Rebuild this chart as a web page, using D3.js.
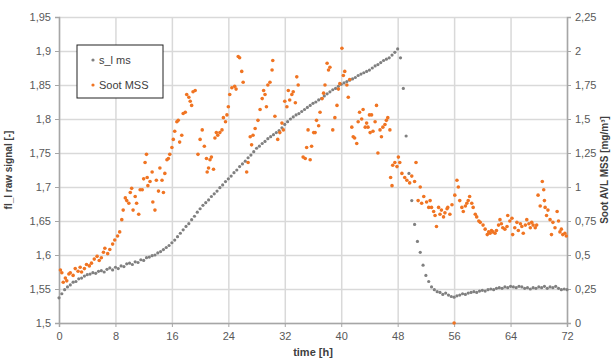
<!DOCTYPE html>
<meta charset="utf-8">
<body style="margin:0;background:#fff"><div id="chart"></div></body>
<script src="https://cdn.jsdelivr.net/npm/d3@7"></script>
<script>
// plot box and size
var width = 615, height = 360;
var margin = {top: 17, right: 48, bottom: 37, left: 59};
var innerW = width - margin.left - margin.right,
    innerH = height - margin.top - margin.bottom;

// tick labels
var timeTicks = [0, 8, 16, 24, 32, 40, 48, 56, 64, 72];
var leftTicks = [1.5, 1.55, 1.6, 1.65, 1.7, 1.75, 1.8, 1.85, 1.9, 1.95];
var rightTicks = [0, 0.25, 0.5, 0.75, 1, 1.25, 1.5, 1.75, 2, 2.25];

// fl_l signal, sampled every 0.4 h from t = 0
var signalStep = 0.4;
var signalValues = [
  1.537,1.543,1.549,1.553,1.556,1.560,1.561,1.565,1.566,1.569,1.571,1.572,1.574,1.573,1.576,1.577,1.575,1.579,1.581,1.578,
  1.582,1.580,1.584,1.583,1.587,1.588,1.586,1.590,1.589,1.593,1.592,1.596,1.597,1.599,1.600,1.603,1.605,1.608,1.611,1.614,
  1.618,1.622,1.627,1.632,1.637,1.642,1.646,1.652,1.657,1.663,1.668,1.673,1.677,1.681,1.686,1.690,1.694,1.699,1.703,1.708,
  1.712,1.716,1.721,1.725,1.730,1.734,1.738,1.743,1.747,1.752,1.757,1.760,1.764,1.767,1.771,1.774,1.777,1.780,1.783,1.787,
  1.792,1.796,1.800,1.803,1.806,1.808,1.811,1.814,1.817,1.820,1.823,1.825,1.828,1.830,1.834,1.837,1.840,1.843,1.845,1.848,
  1.851,1.853,1.855,1.857,1.859,1.861,1.864,1.866,1.868,1.870,1.872,1.875,1.878,1.880,1.883,1.886,1.888,1.890,1.894,1.898,
  1.903,1.890,1.845,1.775,1.720,1.680,1.645,1.620,1.604,1.585,1.570,1.561,1.553,1.549,1.546,1.545,1.542,1.544,1.541,1.539,
  1.538,1.540,1.541,1.543,1.542,1.544,1.545,1.546,1.545,1.547,1.548,1.547,1.549,1.550,1.549,1.551,1.552,1.551,1.553,1.552,
  1.554,1.553,1.552,1.554,1.553,1.551,1.552,1.550,1.552,1.551,1.553,1.552,1.554,1.551,1.553,1.552,1.554,1.551,1.549,1.550,
  1.549
];

// Soot MSS (mg/m3)
var sootTimes = [
  0.2,0.4,0.6,0.9,1.1,1.4,1.6,2.0,2.3,2.7,3.0,3.2,3.6,3.9,4.3,4.6,5.0,5.4,5.7,6.0,6.3,6.5,6.9,7.2,7.6,7.9,
  8.3,8.6,8.9,9.1,9.4,9.6,9.9,10.1,10.3,10.5,10.8,11.0,11.3,11.5,11.8,12.0,12.2,12.4,12.5,12.6,12.9,13.2,13.3,13.6,13.8,14.1,14.3,14.6,14.8,15.0,15.3,15.5,15.7,
  16.0,16.2,16.4,16.7,16.9,17.1,17.4,17.6,17.9,18.1,18.4,18.6,18.8,19.0,19.3,19.7,20.0,20.3,20.6,20.9,21.0,21.2,21.4,21.6,21.9,22.1,22.3,22.5,22.8,23.1,23.3,23.6,23.8,
  24.0,24.2,24.5,24.9,25.1,25.4,25.6,25.9,26.1,26.6,26.8,27.1,27.3,27.5,27.8,28.2,28.5,28.8,29.0,29.2,29.4,29.6,29.9,30.2,30.3,30.6,31.0,31.3,31.6,31.8,
  32.0,32.3,32.5,32.7,33.0,33.2,33.5,33.7,33.9,34.6,34.9,35.1,35.3,35.6,35.8,36.1,36.3,36.5,36.8,37.0,37.3,37.5,37.7,38.0,38.2,38.4,38.8,39.1,39.4,39.6,39.8,
  40.1,40.3,40.5,40.8,41.0,41.2,41.5,41.7,41.9,42.2,42.4,42.6,42.9,43.1,43.4,43.6,43.8,44.0,44.1,44.3,44.5,44.8,45.0,45.2,45.5,45.7,45.9,46.2,46.4,46.6,46.9,47.0,47.2,47.3,47.6,47.9,
  48.1,48.3,48.6,49.0,49.3,49.7,50.0,50.4,50.6,50.9,51.2,51.4,51.7,52.1,52.4,52.6,52.8,53.1,53.3,53.5,53.8,54.0,54.2,54.5,54.7,55.0,55.1,55.4,55.7,
  56.0,56.1,56.4,56.6,56.8,57.1,57.3,57.6,57.8,58.0,58.2,58.5,58.7,59.0,59.2,59.5,59.7,60.1,60.4,60.7,60.9,61.1,61.3,61.5,61.8,62.0,62.3,62.5,62.7,62.9,63.2,63.5,63.6,63.9,
  64.2,64.3,64.6,64.9,65.1,65.4,65.6,65.8,66.1,66.3,66.6,66.8,67.0,67.2,67.5,67.7,67.9,68.2,68.5,68.7,68.8,68.9,69.1,69.3,69.6,69.8,70.0,70.3,70.6,70.8,71.0,71.2,71.4,71.7,71.9
];
var sootValues = [
  0.39,0.37,0.30,0.33,0.31,0.36,0.37,0.35,0.40,0.38,0.41,0.375,0.40,0.43,0.42,0.44,0.47,0.49,0.46,0.48,0.52,0.55,0.51,0.54,0.58,0.61,
  0.64,0.67,0.76,0.83,0.92,0.90,0.88,0.96,0.99,0.83,0.93,0.88,0.80,0.98,0.98,1.06,1.18,1.24,1.07,1.01,1.04,1.11,0.89,0.83,1.05,0.97,1.14,1.05,0.96,1.10,1.20,1.21,1.24,
  1.29,1.35,1.41,1.48,1.49,1.33,1.38,1.54,1.55,1.68,1.66,1.63,1.60,1.70,1.71,1.24,1.35,1.42,1.30,1.21,1.11,1.14,1.20,1.22,1.13,1.36,1.40,1.38,1.40,1.42,1.51,1.48,1.53,
  1.59,1.68,1.73,1.74,1.72,1.96,1.95,1.85,1.77,1.11,1.18,1.37,1.31,1.38,1.43,1.49,1.57,1.65,1.71,1.68,1.59,1.75,1.77,1.86,1.93,1.52,1.35,1.40,1.47,1.42,
  1.63,1.59,1.71,1.64,1.68,1.70,1.62,1.81,1.75,1.22,1.21,1.29,1.42,1.20,1.30,1.40,1.40,1.49,1.45,1.55,1.65,1.69,1.75,1.91,1.86,1.88,1.42,1.51,1.60,1.72,1.76,
  2.02,1.82,1.85,1.75,1.66,1.79,1.44,1.37,1.36,1.32,1.48,1.55,1.50,1.57,1.44,1.47,1.44,1.53,1.40,1.53,1.41,1.48,1.60,1.25,1.42,1.37,1.44,1.46,1.49,1.51,1.42,1.07,1.01,1.16,1.18,1.15,
  1.22,1.18,1.10,1.07,1.05,1.03,1.08,1.04,1.18,0.90,1.00,0.88,0.93,0.89,0.85,0.90,0.85,0.82,0.79,0.71,0.85,0.80,0.83,0.78,0.81,0.84,0.85,0.80,0.87,
  0.00,0.94,1.05,1.00,0.90,0.85,0.82,0.86,0.88,0.90,0.93,0.88,0.85,0.80,0.78,0.75,0.74,0.72,0.69,0.65,0.67,0.66,0.68,0.67,0.66,0.68,0.72,0.76,0.73,0.70,0.69,0.71,0.79,0.75,
  0.77,0.65,0.70,0.74,0.68,0.73,0.71,0.66,0.72,0.76,0.73,0.70,0.74,0.72,0.70,0.72,0.94,0.86,1.04,0.98,0.90,0.85,0.79,0.83,0.76,0.65,0.74,0.70,0.82,0.75,0.67,0.69,0.65,0.66,0.64
];

var grayColor = "#808080", orangeColor = "#f07422";
var fmt = function(d) { return String(+d.toFixed(2)).replace(".", ","); };

var svg = d3.select("#chart").append("svg")
    .attr("width", width)
    .attr("height", height)
    .style("font-family", "'Liberation Sans', Arial, sans-serif");

var g = svg.append("g")
    .attr("transform", "translate(" + margin.left + "," + margin.top + ")");

var x = d3.scaleLinear().domain([0, 72]).range([0, innerW]);
var yL = d3.scaleLinear().domain([1.5, 1.95]).range([innerH, 0]);
var yR = d3.scaleLinear().domain([0, 2.25]).range([innerH, 0]);

// grid
g.append("g").attr("class", "grid")
    .call(d3.axisLeft(yL).tickValues(leftTicks).tickSize(-innerW).tickFormat(""))
    .call(function(s) { s.select(".domain").remove(); });
g.append("g").attr("class", "grid")
    .attr("transform", "translate(0," + innerH + ")")
    .call(d3.axisBottom(x).tickValues(timeTicks).tickSize(-innerH).tickFormat(""))
    .call(function(s) { s.select(".domain").remove(); });
g.selectAll(".grid line").attr("stroke", "#d9d9d9").attr("stroke-width", 1.5);

// axes
var ax = g.append("g").attr("transform", "translate(0," + innerH + ")")
    .call(d3.axisBottom(x).tickValues(timeTicks).tickSize(4).tickPadding(5).tickFormat(fmt));
var ayl = g.append("g")
    .call(d3.axisLeft(yL).tickValues(leftTicks).tickSize(4).tickPadding(4).tickFormat(fmt));
var ayr = g.append("g").attr("transform", "translate(" + innerW + ",0)")
    .call(d3.axisRight(yR).tickValues(rightTicks).tickSize(4).tickPadding(4).tickFormat(fmt));
[ax, ayl, ayr].forEach(function(a) {
  a.select(".domain").attr("stroke", "#a6a6a6").attr("stroke-width", 1.5);
  a.selectAll(".tick line").attr("stroke", "#a6a6a6");
  a.selectAll(".tick text").attr("fill", "#595959").style("font-size", "11px");
});

// series
g.append("g").selectAll("circle")
    .data(signalValues)
    .enter().append("circle")
    .attr("cx", function(d, i) { return x(i * signalStep); })
    .attr("cy", function(d) { return yL(d); })
    .attr("r", 1.6)
    .attr("fill", grayColor);

g.append("g").selectAll("circle")
    .data(sootValues)
    .enter().append("circle")
    .attr("cx", function(d, i) { return x(sootTimes[i]); })
    .attr("cy", function(d) { return yR(d); })
    .attr("r", 1.8)
    .attr("fill", orangeColor);

// titles
svg.append("text")
    .attr("x", margin.left + innerW / 2).attr("y", 356)
    .attr("text-anchor", "middle")
    .style("font-size", "11px").style("font-weight", "bold").attr("fill", "#404040")
    .text("time [h]");
svg.append("text")
    .attr("transform", "translate(12," + (margin.top + innerH / 2) + ") rotate(-90)")
    .attr("text-anchor", "middle")
    .style("font-size", "10px").style("font-weight", "bold").attr("fill", "#404040")
    .text("fl_l raw signal [-]");
svg.append("text")
    .attr("transform", "translate(608," + (margin.top + innerH / 2) + ") rotate(-90)")
    .attr("text-anchor", "middle")
    .style("font-size", "10px").style("font-weight", "bold").attr("fill", "#404040")
    .text("Soot AVL MSS [mg/m³]");

// legend
var lg = svg.append("g").attr("transform", "translate(77,45)");
lg.append("rect").attr("width", 86).attr("height", 53)
    .attr("fill", "#fff").attr("stroke", "#222").attr("stroke-width", 1);
var legendItems = [["s_l ms", grayColor, 15], ["Soot MSS", orangeColor, 40]];
legendItems.forEach(function(it) {
  lg.append("circle").attr("cx", 16).attr("cy", it[2]).attr("r", 1.6).attr("fill", it[1]);
  lg.append("text").attr("x", 22).attr("y", it[2] + 4)
      .style("font-size", "11px").attr("fill", "#404040").text(it[0]);
});
</script>
